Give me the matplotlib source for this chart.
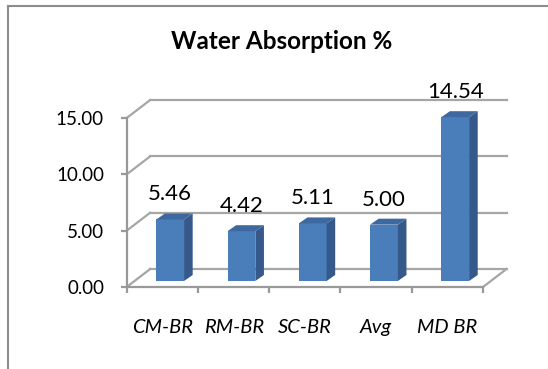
import matplotlib
matplotlib.use("Agg")
import matplotlib.pyplot as plt
from matplotlib.patches import Polygon
from matplotlib.lines import Line2D

plt.rcParams['font.family'] = ['Lato', 'DejaVu Sans']

categories = ["CM-BR", "RM-BR", "SC-BR", "Avg", "MD BR"]
values = [5.46, 4.42, 5.11, 5.00, 14.54]
y_ticks = [0, 5, 10, 15]
title = "Water Absorption %"

# colours for the 3d look
front_col = "#4A7EBB"
side_col = "#34598A"
top_col = "#3E69A0"
grid_col = "#A6A6A6"

W, H = 548, 369
fig = plt.figure(figsize=(W / 100, H / 100), dpi=100)

# front plane of the plot: x from -0.5..4.5, y 0..15
left, right = 126.7, 483.0
bottom, top = 287.0, 118.0
ax = fig.add_axes([left / W, 1 - bottom / H, (right - left) / W, (bottom - top) / H])
ax.set_xlim(-0.5, len(categories) - 0.5)
ax.set_ylim(0, 15)

# depth of the box (back wall offset) in data units
px_x = (right - left) / len(categories)
px_y = (bottom - top) / 15
dx = 23.5 / px_x
dy = 18.0 / px_y
x0, x1 = -0.5, len(categories) - 0.5

# back wall gridlines and the slanted lines on the left wall
for v in y_ticks:
    ax.plot([x0 + dx, x1 + dx], [v + dy, v + dy], color=grid_col, lw=1.6, clip_on=False, zorder=1)
    ax.plot([x0, x0 + dx], [v, v + dy], color=grid_col, lw=1.6, clip_on=False, zorder=1)
# right edge of the floor
ax.plot([x1, x1 + dx], [0, dy], color=grid_col, lw=1.6, clip_on=False, zorder=1)

# bars sit in the middle third of the depth
bx, by = dx / 3, dy / 3
bw = 0.39
xs = [i + bx for i in range(len(categories))]
ax.bar(xs, values, width=bw, bottom=by, color=front_col, zorder=3, clip_on=False)
for x, v in zip(xs, values):
    xl, xr = x - bw / 2, x + bw / 2
    ytop = v + by
    side = Polygon([(xr, by), (xr + bx * 1.1, by + by), (xr + bx * 1.1, ytop + by), (xr, ytop)],
                   closed=True, facecolor=side_col, edgecolor="none", zorder=3, clip_on=False)
    cap = Polygon([(xl, ytop), (xl + bx * 1.1, ytop + by), (xr + bx * 1.1, ytop + by), (xr, ytop)],
                  closed=True, facecolor=top_col, edgecolor="none", zorder=3, clip_on=False)
    ax.add_patch(side)
    ax.add_patch(cap)
    ax.annotate(f"{v:.2f}", (x, ytop), xytext=(0, 13.7), textcoords="offset points",
                ha="center", va="baseline", fontsize=16, color="black",
                annotation_clip=False)

# axes lines
for s in ["top", "right"]:
    ax.spines[s].set_visible(False)
for s in ["left", "bottom"]:
    ax.spines[s].set_color("#999999")
    ax.spines[s].set_linewidth(1.6)
ax.set_yticks(y_ticks)
ax.set_yticklabels([f"{v:.2f}" for v in y_ticks])
ax.tick_params(axis="y", length=4.3, width=1.6, color="#999999", pad=12, labelsize=13.5)
ax.set_xticks(range(len(categories)))
ax.set_xticklabels(categories, fontstyle="italic", fontsize=14.5)
ax.set_xticks([i - 0.5 for i in range(len(categories) + 1)], minor=True)
ax.tick_params(axis="x", which="major", length=0, pad=33)
ax.tick_params(axis="x", which="minor", length=4.3, width=1.6, color="#999999")
for lab in ax.get_xticklabels():
    lab.set_va("baseline")
ax.patch.set_visible(False)

fig.text(281.5 / W, 1 - 49.3 / H, title, ha="center", va="baseline",
         fontsize=17.5, fontweight="bold")

# outer chart border (runs off the right and bottom)
fig.add_artist(Line2D([8 / W, 8 / W], [0, 1 - 5.5 / H], color="#8C8C8C", lw=1.5))
fig.add_artist(Line2D([8 / W, 1], [1 - 5.5 / H, 1 - 5.5 / H], color="#8C8C8C", lw=1.5))

fig.savefig("out.png", dpi=100)
